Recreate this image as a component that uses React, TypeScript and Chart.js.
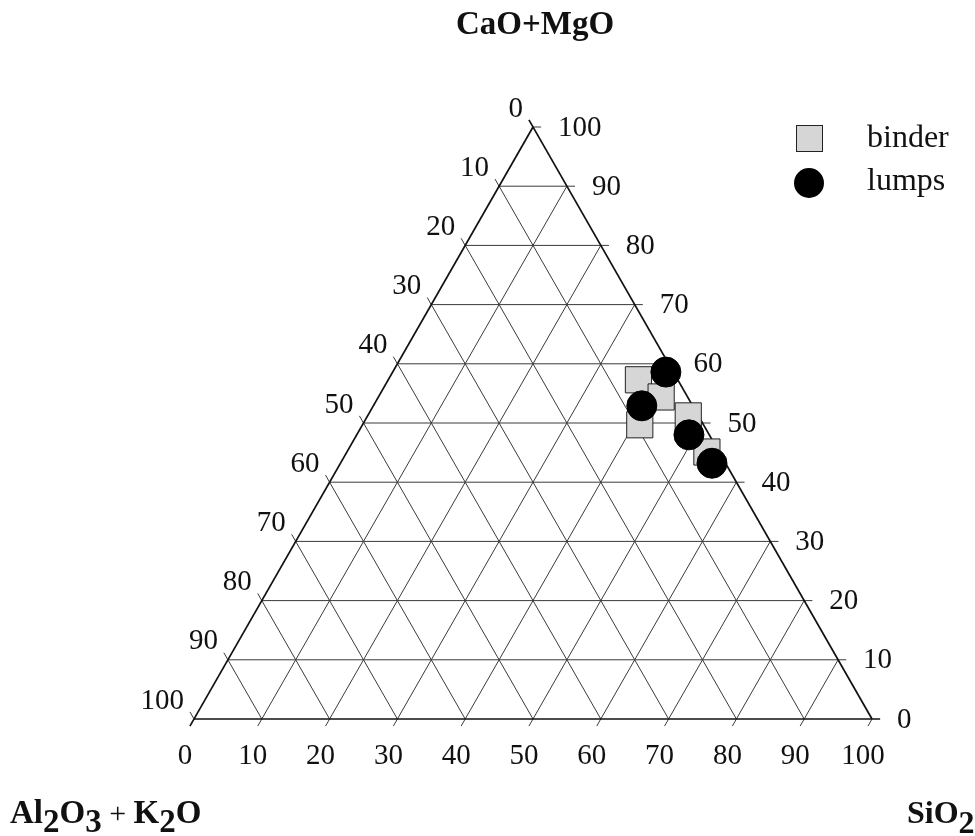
import React, { useEffect, useRef } from "react";
import { Chart, registerables } from "chart.js";

Chart.register(...registerables);

// ---- data (percent) ----
const TICKS = [0, 10, 20, 30, 40, 50, 60, 70, 80, 90, 100];

const binderSiO2 = [36.9, 41.7, 40.9, 47.3, 53.1];
const binderCaOMgO = [57.3, 54.4, 49.7, 51.2, 45.1];
const binderAl2O3K2O = [5.8, 3.9, 9.4, 1.5, 1.8];

const lumpsSiO2 = [40.3, 39.6, 49.0, 54.8];
const lumpsCaOMgO = [58.6, 52.9, 48.0, 43.2];
const lumpsAl2O3K2O = [1.1, 7.5, 3.0, 2.0];

const SERIES_LABELS = ["binder", "lumps"];

// ---- ternary helpers ----
const H = Math.sqrt(3) / 2;
const tern = (s: number, c: number) => ({ x: s + c / 2, y: c * H });
const toXY = (si: number, ca: number, al: number) => {
  const t = si + ca + al;
  return tern(si / t, ca / t);
};
const EXT = 0.012;

const SERIF = '"Liberation Serif", "Times New Roman", serif';

function gridDatasets() {
  const out: any[] = [];
  TICKS.forEach((t) => {
    const k = t / 100;
    const isEdge = t === 0;
    const style = {
      type: "scatter",
      showLine: true,
      pointRadius: 0,
      pointHoverRadius: 0,
      borderColor: isEdge ? "#111" : "#3a3a3a",
      borderWidth: isEdge ? 1.7 : 1,
      fill: false,
      clip: false,
      order: 5,
    };
    // constant CaO+MgO (horizontal), extended past right edge
    out.push({ ...style, data: [tern(0, k), tern(1 - k + EXT, k)] });
    // constant SiO2 (parallel to left edge), extended below base
    out.push({ ...style, data: [tern(k, -EXT), tern(k, 1 - k)] });
    // constant Al2O3+K2O (parallel to right edge), extended past left edge
    out.push({ ...style, data: [tern(1 - k, 0), tern(-EXT, 1 - k + EXT)] });
  });
  return out;
}

const BINDER_FILL = "#d6d6d6";
const BINDER_BORDER = "#222";
const LUMP_FILL = "#000";

function drawSubText(
  ctx: CanvasRenderingContext2D,
  parts: [string, boolean, string?][],
  x: number,
  y: number,
  drop: number,
  baseFont: string
) {
  let cx = x;
  parts.forEach(([txt, sub, font]) => {
    ctx.font = font || baseFont;
    ctx.fillText(txt, cx, sub ? y + drop : y);
    cx += ctx.measureText(txt).width;
  });
}

const labelPlugin = {
  id: "ternaryLabels",
  afterDraw(chart: any) {
    const ctx: CanvasRenderingContext2D = chart.ctx;
    const xs = chart.scales.x;
    const ys = chart.scales.y;
    const px = (p: { x: number; y: number }) => [xs.getPixelForValue(p.x), ys.getPixelForValue(p.y)];
    ctx.save();
    ctx.fillStyle = "#111";
    ctx.font = `29px ${SERIF}`;

    // right side: CaO+MgO
    ctx.textAlign = "left";
    ctx.textBaseline = "middle";
    TICKS.forEach((t) => {
      const k = t / 100;
      const [x, y] = px(tern(1 - k, k));
      ctx.fillText(String(t), x + 25, y + 1);
    });
    // left side: Al2O3+K2O
    ctx.textAlign = "right";
    TICKS.forEach((t) => {
      const k = t / 100;
      const [x, y] = px(tern(0, 1 - k));
      ctx.fillText(String(t), x - 10, y - 18);
    });
    // bottom: SiO2
    ctx.textAlign = "center";
    TICKS.forEach((t) => {
      const [x, y] = px(tern(t / 100, 0));
      ctx.fillText(String(t), x - 9, y + 37);
    });

    // vertex titles
    ctx.font = `bold 33px ${SERIF}`;
    ctx.textBaseline = "alphabetic";
    ctx.textAlign = "center";
    ctx.fillText("CaO+MgO", 535, 34);

    ctx.textAlign = "left";
    const bold = `bold 33px ${SERIF}`;
    drawSubText(
      ctx,
      [
        ["Al", false],
        ["2", true],
        ["O", false],
        ["3", true],
        [" + ", false, `30px ${SERIF}`],
        ["K", false],
        ["2", true],
        ["O", false],
      ],
      10,
      823,
      9,
      bold
    );
    drawSubText(
      ctx,
      [
        ["SiO", false],
        ["2", true],
      ],
      907,
      823,
      10,
      `bold 32px ${SERIF}`
    );

    // legend
    ctx.font = `32px ${SERIF}`;
    ctx.textBaseline = "middle";
    ctx.textAlign = "left";
    ctx.fillStyle = BINDER_FILL;
    ctx.strokeStyle = BINDER_BORDER;
    ctx.lineWidth = 1;
    ctx.fillRect(796, 125, 26, 26);
    ctx.strokeRect(796.5, 125.5, 26, 26);
    ctx.fillStyle = LUMP_FILL;
    ctx.beginPath();
    ctx.arc(809, 183, 15, 0, Math.PI * 2);
    ctx.fill();
    ctx.fillStyle = "#111";
    ctx.fillText(SERIES_LABELS[0], 867, 139);
    ctx.fillText(SERIES_LABELS[1], 867, 182);
    ctx.restore();
  },
};

export default function App() {
  const ref = useRef<HTMLCanvasElement | null>(null);
  useEffect(() => {
    if (!ref.current) return;
    const binder = binderSiO2.map((s, i) => toXY(s, binderCaOMgO[i], binderAl2O3K2O[i]));
    const lumps = lumpsSiO2.map((s, i) => toXY(s, lumpsCaOMgO[i], lumpsAl2O3K2O[i]));
    const chart = new Chart(ref.current, {
      type: "scatter",
      data: {
        datasets: [
          {
            label: SERIES_LABELS[1],
            data: lumps,
            pointStyle: "circle",
            pointRadius: 15,
            pointHoverRadius: 15,
            backgroundColor: LUMP_FILL,
            borderColor: LUMP_FILL,
            borderWidth: 1,
            clip: false,
            order: 0,
          },
          {
            label: SERIES_LABELS[0],
            data: binder,
            pointStyle: "rect",
            pointRadius: 18.5,
            pointHoverRadius: 18.5,
            backgroundColor: BINDER_FILL,
            borderColor: BINDER_BORDER,
            borderWidth: 1,
            clip: false,
            order: 1,
          },
          ...gridDatasets(),
        ] as any,
      },
      options: {
        animation: false,
        responsive: false,
        events: [],
        layout: { padding: { left: 194, right: 103, top: 127, bottom: 117 } },
        scales: {
          x: { type: "linear", min: 0, max: 1, display: false },
          y: { type: "linear", min: 0, max: H, display: false },
        },
        plugins: { legend: { display: false }, tooltip: { enabled: false } },
      },
      plugins: [labelPlugin],
    });
    return () => chart.destroy();
  }, []);
  return (
    <div style={{ position: "fixed", left: 0, top: 0, width: 975, height: 836, background: "#fff" }}>
      <canvas ref={ref} width={975} height={836} style={{ display: "block" }} />
    </div>
  );
}
